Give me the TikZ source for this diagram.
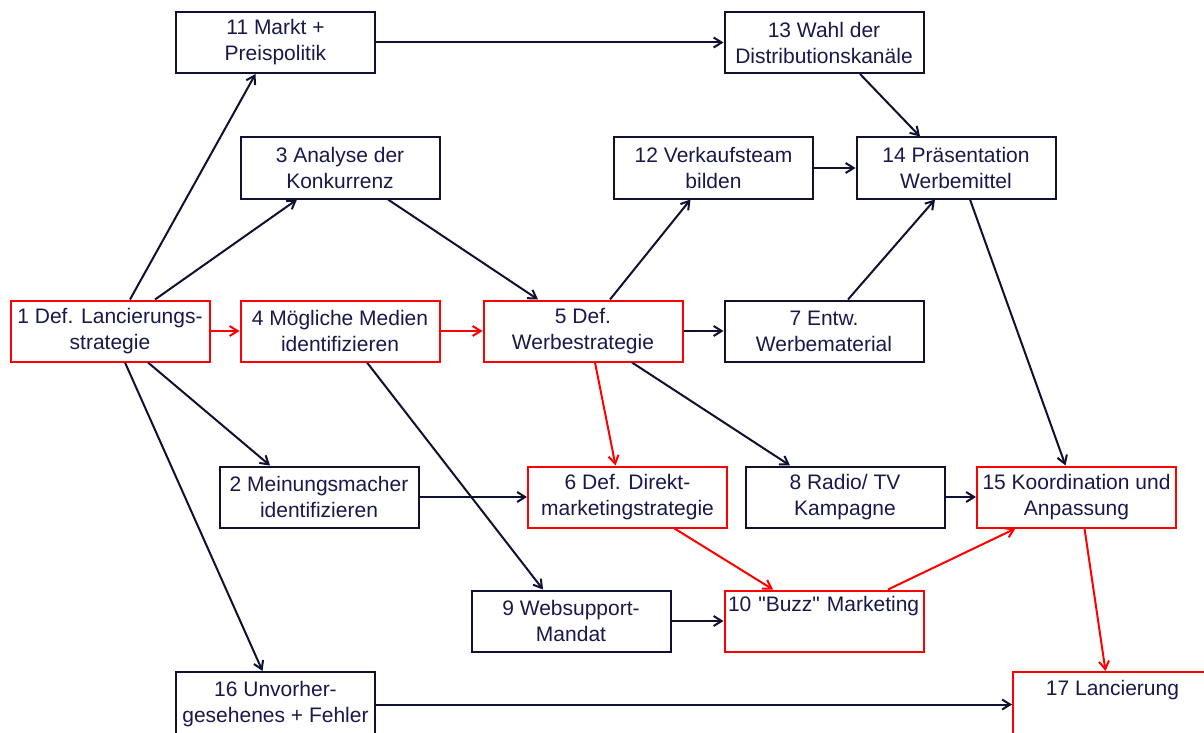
\documentclass[tikz,border=0pt]{standalone}
\usepackage{fontspec}
\setmainfont{Liberation Sans}[Ligatures=TeXOff]
\usepackage{xcolor}
\usepackage{tikz}
\usetikzlibrary{arrows.meta,positioning,calc}
\definecolor{inkblue}{HTML}{18184A}
\definecolor{lineblue}{HTML}{101030}
\definecolor{critred}{HTML}{FF0000}
\tikzset{
  task/.style={draw=lineblue, line width=2pt, rectangle, minimum width=199pt, minimum height=61pt,
    inner xsep=3pt, inner ysep=0pt, align=center, text=inkblue, font=\fontsize{21}{26}\selectfont},
  crit/.style={task, draw=critred},
  flow/.style={draw=lineblue, line width=2pt, -{Straight Barb[length=8pt,width=10pt,line width=2pt]}},
  critflow/.style={flow, draw=critred}
}

\begin{document}
\begin{tikzpicture}[x=1pt, y=-1pt]
    \useasboundingbox (0,0) rectangle (1204,733);

    % Top row
    \node[task] at (275.5,42.5) (m11) {11 Markt +\\Preispolitik};
    \node[task] at (824,42.5) (m13) {13 Wahl der\\Distributionskanäle};

    % Second row
    \node[task] at (340,168) (m3) {3 Analyse der\\Konkurrenz};
    \node[task] at (713.5,168) (m12) {12 Verkaufsteam\\bilden};
    \node[task] at (956,168) (m14) {14 Präsentation\\Werbemittel};

    % Middle row
    \node[crit] at (110,331) (m1) {1 Def. Lancierungs-\\strategie};
    \node[crit] at (340,331) (m4) {4 Mögliche Medien\\identifizieren};
    \node[crit] at (583,331) (m5) {5 Def.\\Werbestrategie};
    \node[task] at (824,331) (m7) {7 Entw.\\Werbematerial};

    % Fourth row
    \node[task] at (319,497) (m2) {2 Meinungsmacher\\identifizieren};
    \node[crit] at (627.5,497) (m6) {6 Def. Direkt-\\marketingstrategie};
    \node[task] at (845,497) (m8) {8 Radio/ TV\\Kampagne};
    \node[crit] at (1076.5,497) (m15) {15 Koordination und\\Anpassung};

    % Fifth row
    \node[task] at (571,621) (m9) {9 Websupport-\\Mandat};
    \node[crit, align=left, text width=192pt] at (824,621) (m10) {10 "Buzz" Marketing\\\strut};

    % Bottom row
    \node[task, minimum height=65pt] at (275.5,704.5) (m16) {16 Unvorher-\\gesehenes + Fehler};
    \node[crit, minimum height=65pt] at (1112.5,704.5) (m17) {17 Lancierung\\\strut};

    % Connections
    \draw[flow] ($(m1.north)+(20,0)$) -- ($(m11.south)+(-20,0)$);
    \draw[flow] ($(m1.north)+(45,0)$) -- ($(m3.south)+(-43,0)$);
    \draw[critflow] (m1) -- (m4);
    \draw[flow] ($(m1.south)+(38,0)$) -- ($(m2.north)+(-49,0)$);
    \draw[flow] ($(m1.south)+(15,0)$) -- ($(m16.north)+(-13,0)$);
    \draw[flow] (m11) -- (m13);
    \draw[flow] ($(m13.south)+(36,0)$) -- ($(m14.north)+(-36,0)$);
    \draw[flow] ($(m3.south)+(48,0)$) -- ($(m5.north)+(-45,0)$);
    \draw[critflow] (m4) -- (m5);
    \draw[flow] ($(m4.south)+(27,0)$) -- ($(m9.north)+(-28,0)$);
    \draw[flow] ($(m5.north)+(27,0)$) -- ($(m12.south)+(-23,0)$);
    \draw[flow] (m5) -- (m7);
    \draw[critflow] ($(m5.south)+(12,0)$) -- ($(m6.north)+(-12,0)$);
    \draw[flow] ($(m5.south)+(49,0)$) -- ($(m8.north)+(-55,0)$);
    \draw[flow] ($(m7.north)+(24,0)$) -- ($(m14.south)+(-21,0)$);
    \draw[flow] (m12) -- (m14);
    \draw[flow] ($(m14.south)+(14,0)$) -- ($(m15.north)+(-11,0)$);
    \draw[flow] (m2) -- (m6);
    \draw[flow] (m8) -- (m15);
    \draw[critflow] ($(m6.south)+(47,0)$) -- ($(m10.north)+(-51,0)$);
    \draw[flow] (m9) -- (m10);
    \draw[critflow] ($(m10.north)+(64,0)$) -- ($(m15.south)+(-61,0)$);
    \draw[critflow] ($(m15.south)+(8,0)$) -- ($(m17.north)+(-7,0)$);
    \draw[flow] (m16) -- (m17);
\end{tikzpicture}
\end{document}
